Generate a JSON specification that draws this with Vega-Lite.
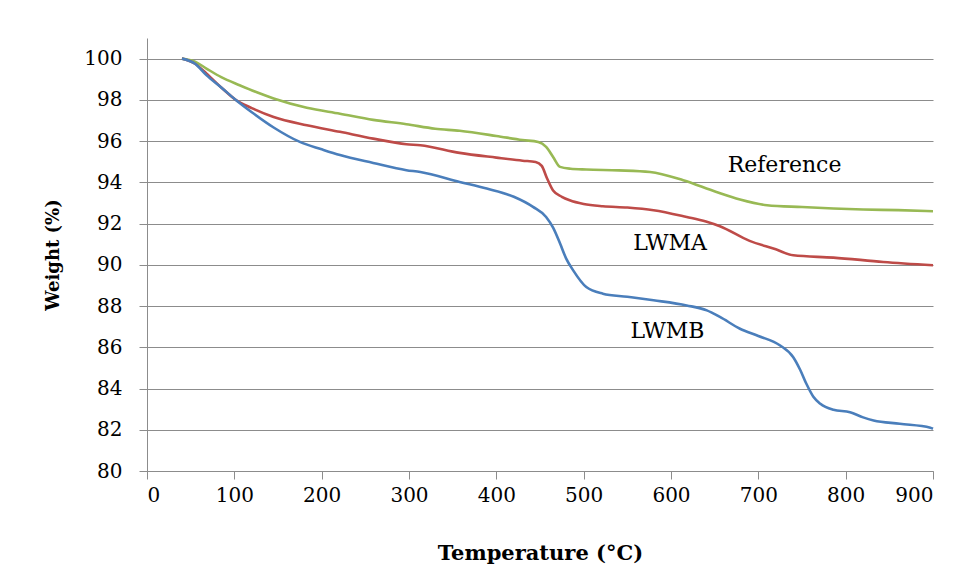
{
  "$schema": "https://vega.github.io/schema/vega-lite/v6.json",
  "width": 786,
  "height": 433,
  "autosize": "none",
  "padding": {"left": 147, "top": 38, "right": 37, "bottom": 115},
  "background": "white",
  "config": {
    "view": {"stroke": null},
    "font": "DejaVu Serif"
  },
  "datasets": {
    "curves": [
      {"s": "Reference", "t": 40, "w": 100}, {"s": "Reference", "t": 55, "w": 99.85}, {"s": "Reference", "t": 68, "w": 99.52}, {"s": "Reference", "t": 85, "w": 99.1}, {"s": "Reference", "t": 106, "w": 98.71}, {"s": "Reference", "t": 125, "w": 98.38}, {"s": "Reference", "t": 145, "w": 98.07}, {"s": "Reference", "t": 183, "w": 97.62}, {"s": "Reference", "t": 221, "w": 97.33}, {"s": "Reference", "t": 259, "w": 97.03}, {"s": "Reference", "t": 297, "w": 96.82}, {"s": "Reference", "t": 330, "w": 96.6}, {"s": "Reference", "t": 358, "w": 96.5}, {"s": "Reference", "t": 400, "w": 96.25}, {"s": "Reference", "t": 430, "w": 96.05}, {"s": "Reference", "t": 448, "w": 95.96}, {"s": "Reference", "t": 457, "w": 95.72}, {"s": "Reference", "t": 465, "w": 95.23}, {"s": "Reference", "t": 473, "w": 94.75}, {"s": "Reference", "t": 485, "w": 94.66}, {"s": "Reference", "t": 503, "w": 94.62}, {"s": "Reference", "t": 540, "w": 94.58}, {"s": "Reference", "t": 576, "w": 94.5}, {"s": "Reference", "t": 614, "w": 94.1}, {"s": "Reference", "t": 652, "w": 93.53}, {"s": "Reference", "t": 679, "w": 93.17}, {"s": "Reference", "t": 710, "w": 92.89}, {"s": "Reference", "t": 750, "w": 92.8}, {"s": "Reference", "t": 786, "w": 92.73}, {"s": "Reference", "t": 820, "w": 92.68}, {"s": "Reference", "t": 860, "w": 92.65}, {"s": "Reference", "t": 900, "w": 92.6},
      {"s": "LWMA", "t": 40, "w": 100}, {"s": "LWMA", "t": 55, "w": 99.75}, {"s": "LWMA", "t": 68, "w": 99.28}, {"s": "LWMA", "t": 85, "w": 98.6}, {"s": "LWMA", "t": 101, "w": 98.02}, {"s": "LWMA", "t": 120, "w": 97.6}, {"s": "LWMA", "t": 145, "w": 97.17}, {"s": "LWMA", "t": 183, "w": 96.77}, {"s": "LWMA", "t": 221, "w": 96.45}, {"s": "LWMA", "t": 259, "w": 96.12}, {"s": "LWMA", "t": 297, "w": 95.85}, {"s": "LWMA", "t": 313, "w": 95.8}, {"s": "LWMA", "t": 358, "w": 95.43}, {"s": "LWMA", "t": 400, "w": 95.2}, {"s": "LWMA", "t": 430, "w": 95.05}, {"s": "LWMA", "t": 445, "w": 94.99}, {"s": "LWMA", "t": 452, "w": 94.8}, {"s": "LWMA", "t": 458, "w": 94.2}, {"s": "LWMA", "t": 465, "w": 93.6}, {"s": "LWMA", "t": 475, "w": 93.3}, {"s": "LWMA", "t": 484, "w": 93.13}, {"s": "LWMA", "t": 500, "w": 92.95}, {"s": "LWMA", "t": 522, "w": 92.84}, {"s": "LWMA", "t": 550, "w": 92.78}, {"s": "LWMA", "t": 580, "w": 92.65}, {"s": "LWMA", "t": 618, "w": 92.32}, {"s": "LWMA", "t": 640, "w": 92.1}, {"s": "LWMA", "t": 656, "w": 91.87}, {"s": "LWMA", "t": 690, "w": 91.16}, {"s": "LWMA", "t": 720, "w": 90.75}, {"s": "LWMA", "t": 740, "w": 90.46}, {"s": "LWMA", "t": 786, "w": 90.35}, {"s": "LWMA", "t": 843, "w": 90.14}, {"s": "LWMA", "t": 900, "w": 89.98},
      {"s": "LWMB", "t": 40, "w": 100}, {"s": "LWMB", "t": 55, "w": 99.75}, {"s": "LWMB", "t": 68, "w": 99.2}, {"s": "LWMB", "t": 85, "w": 98.6}, {"s": "LWMB", "t": 101, "w": 98.02}, {"s": "LWMB", "t": 120, "w": 97.4}, {"s": "LWMB", "t": 145, "w": 96.66}, {"s": "LWMB", "t": 175, "w": 95.96}, {"s": "LWMB", "t": 200, "w": 95.6}, {"s": "LWMB", "t": 221, "w": 95.32}, {"s": "LWMB", "t": 259, "w": 94.94}, {"s": "LWMB", "t": 297, "w": 94.59}, {"s": "LWMB", "t": 313, "w": 94.5}, {"s": "LWMB", "t": 358, "w": 94.02}, {"s": "LWMB", "t": 389, "w": 93.7}, {"s": "LWMB", "t": 420, "w": 93.3}, {"s": "LWMB", "t": 442, "w": 92.81}, {"s": "LWMB", "t": 457, "w": 92.32}, {"s": "LWMB", "t": 465, "w": 91.8}, {"s": "LWMB", "t": 473, "w": 91.03}, {"s": "LWMB", "t": 480, "w": 90.3}, {"s": "LWMB", "t": 488, "w": 89.73}, {"s": "LWMB", "t": 503, "w": 88.92}, {"s": "LWMB", "t": 522, "w": 88.6}, {"s": "LWMB", "t": 550, "w": 88.45}, {"s": "LWMB", "t": 580, "w": 88.28}, {"s": "LWMB", "t": 618, "w": 88.03}, {"s": "LWMB", "t": 641, "w": 87.79}, {"s": "LWMB", "t": 656, "w": 87.47}, {"s": "LWMB", "t": 679, "w": 86.9}, {"s": "LWMB", "t": 700, "w": 86.55}, {"s": "LWMB", "t": 725, "w": 86.09}, {"s": "LWMB", "t": 740, "w": 85.52}, {"s": "LWMB", "t": 748, "w": 84.9}, {"s": "LWMB", "t": 755, "w": 84.23}, {"s": "LWMB", "t": 763, "w": 83.6}, {"s": "LWMB", "t": 771, "w": 83.26}, {"s": "LWMB", "t": 786, "w": 82.97}, {"s": "LWMB", "t": 805, "w": 82.85}, {"s": "LWMB", "t": 820, "w": 82.6}, {"s": "LWMB", "t": 832, "w": 82.45}, {"s": "LWMB", "t": 862, "w": 82.29}, {"s": "LWMB", "t": 897, "w": 82.1}, {"s": "LWMB", "t": 900, "w": 82.05}
    ],
    "labels": [
      {"label": "Reference", "t": 730, "w": 94.85},
      {"label": "LWMA", "t": 599, "w": 91.07},
      {"label": "LWMB", "t": 596, "w": 86.8}
    ]
  },
  "layer": [
    {
      "data": {"name": "curves"},
      "mark": {"type": "line", "strokeWidth": 2.6, "interpolate": "monotone"},
      "encoding": {
        "x": {
          "field": "t", "type": "quantitative",
          "scale": {"domain": [0, 900], "nice": false},
          "axis": {
            "title": "Temperature (°C)",
            "values": [0, 100, 200, 300, 400, 500, 600, 700, 800, 900],
            "grid": false,
            "domainColor": "#8c8c8c", "tickColor": "#8c8c8c", "tickSize": 8,
            "labelFont": "DejaVu Serif", "labelFontSize": 20, "labelColor": "#000000", "labelPadding": 6,
            "titleFont": "DejaVu Serif", "titleFontSize": 21, "titleFontWeight": "bold", "titleColor": "#000000", "titlePadding": 37
          }
        },
        "y": {
          "field": "w", "type": "quantitative",
          "scale": {"domain": [80, 101], "nice": false, "zero": false},
          "axis": {
            "title": "Weight  (%)",
            "values": [80, 82, 84, 86, 88, 90, 92, 94, 96, 98, 100],
            "grid": true, "gridColor": "#8c8c8c", "gridWidth": 1,
            "domainColor": "#8c8c8c", "tickColor": "#8c8c8c", "tickSize": 8,
            "labelFont": "DejaVu Serif", "labelFontSize": 20, "labelColor": "#000000", "labelPadding": 17,
            "titleFont": "DejaVu Serif", "titleFontSize": 18, "titleFontWeight": "bold", "titleColor": "#000000", "titlePadding": 21
          }
        },
        "color": {
          "field": "s", "type": "nominal",
          "scale": {"domain": ["Reference", "LWMA", "LWMB"], "range": ["#98b954", "#be4b48", "#4a7ebb"]},
          "legend": null
        }
      }
    },
    {
      "data": {"name": "labels"},
      "mark": {"type": "text", "font": "DejaVu Serif", "fontSize": 22, "color": "#000000", "align": "center", "baseline": "middle"},
      "encoding": {
        "x": {"field": "t", "type": "quantitative"},
        "y": {"field": "w", "type": "quantitative"},
        "text": {"field": "label"}
      }
    }
  ]
}
